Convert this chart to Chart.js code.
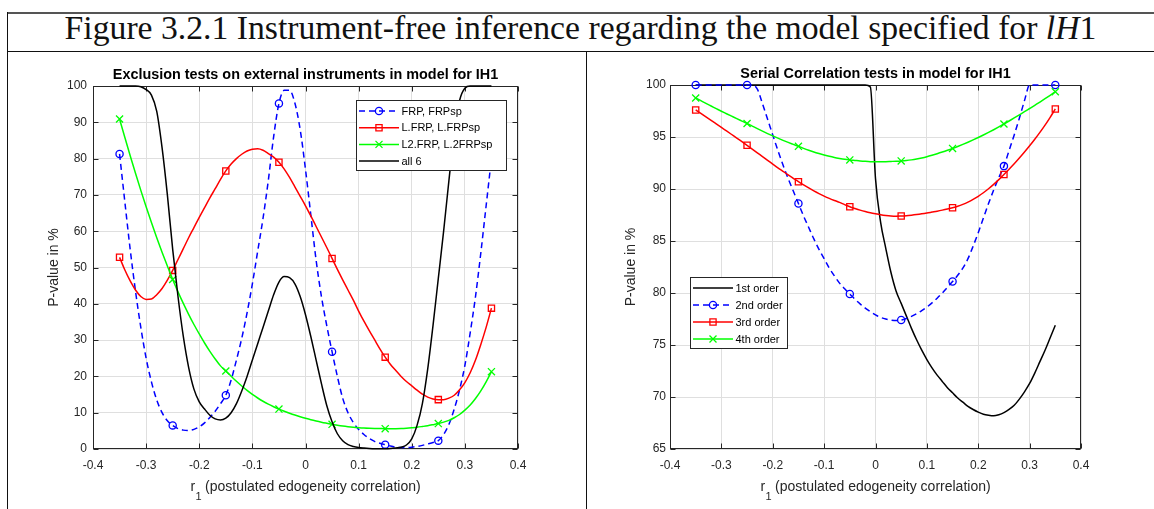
<!DOCTYPE html>
<html>
<head>
<meta charset="utf-8">
<title>Figure 3.2.1</title>
<script src="https://cdn.jsdelivr.net/npm/chart.js@4.4.1/dist/chart.umd.min.js"></script>
<style>
    html, body { margin: 0; padding: 0; background: #fff; }
    #fig { position: relative; width: 1154px; height: 509px; overflow: hidden; background: #fff; }
    .rule { position: absolute; background: #111; }
    #caption {
        position: absolute; left: 7px; top: 13px; width: 1147px; height: 38px;
        text-align: center; white-space: nowrap;
        font-family: "Liberation Serif", "DejaVu Serif", serif; font-size: 30px; line-height: 30px; color: #111;
    }
    canvas { position: absolute; }
</style>
</head>
<body>
<div id="fig">
    <div class="rule" style="left:7px;top:12px;width:1147px;height:2px;background:#555"></div>
    <div class="rule" style="left:7px;top:12px;width:1px;height:497px"></div>
    <div class="rule" style="left:7px;top:51px;width:1147px;height:1px"></div>
    <div class="rule" style="left:586px;top:51px;width:1px;height:458px"></div>
    <div id="caption"><span id="captionText">Figure 3.2.1 Instrument-free inference regarding the model specified for <i>lH</i>1</span></div>
    <canvas id="exclChart" width="577" height="457" style="left:8px;top:52px;width:577px;height:457px"></canvas>
    <canvas id="serialChart" width="567" height="457" style="left:587px;top:52px;width:567px;height:457px"></canvas>
</div>

<script>
// r1 grid the curves were read at, and the positions carrying markers
const r1Grid = [
    -0.35, -0.34, -0.33, -0.32, -0.31, -0.30, -0.29, -0.28, -0.27, -0.26,
    -0.25, -0.24, -0.23, -0.22, -0.21, -0.20, -0.19, -0.18, -0.17, -0.16,
    -0.15, -0.14, -0.13, -0.12, -0.11, -0.10, -0.09, -0.08, -0.07, -0.06,
    -0.05, -0.04, -0.03, -0.02, -0.01, 0, 0.01, 0.02, 0.03, 0.04,
    0.05, 0.06, 0.07, 0.08, 0.09, 0.10, 0.11, 0.12, 0.13, 0.14,
    0.15, 0.16, 0.17, 0.18, 0.19, 0.20, 0.21, 0.22, 0.23, 0.24,
    0.25, 0.26, 0.27, 0.28, 0.29, 0.30, 0.31, 0.32, 0.33, 0.34,
    0.35
];
const r1Markers = [-0.35, -0.25, -0.15, -0.05, 0.05, 0.15, 0.25, 0.35];

// Left panel: exclusion tests (P-value in %)
const exclFrp = [
    81.3, 68, 55, 43.5, 33.5, 25, 18.5, 13.5, 10, 7.8,
    6.5, 5.6, 5.2, 5.1, 5.4, 6.1, 7.2, 8.7, 10.4, 12.5,
    14.8, 19, 24.5, 30.5, 37.5, 45.5, 54.5, 63.5, 74, 86,
    95.2, 98.8, 98.8, 95.3, 88, 77, 64.5, 52, 42, 34,
    26.8, 20, 14, 10, 7.3, 5.4, 4.0, 2.9, 2.1, 1.6,
    1.2, 0.8, 0.5, 0.4, 0.4, 0.5, 0.7, 1.0, 1.4, 1.8,
    2.3, 4, 6.8, 11, 16.3, 23, 32, 42, 54, 67,
    80
];
const exclLFrp = [
    52.8, 49.3, 46.3, 43.8, 42.0, 41.2, 41.3, 42.5, 44.2, 46.5,
    49.2, 52.2, 55.2, 58.2, 61.0, 63.8, 66.5, 69.2, 71.7, 74.3,
    76.6, 78.5, 80.0, 81.2, 82.1, 82.6, 82.7, 82.3, 81.4, 80.4,
    79.0, 77.1, 74.8, 72.2, 69.6, 67.0, 64.2, 61.3, 58.4, 55.5,
    52.5, 49.5, 46.6, 43.8, 41.0, 38.0, 35.2, 32.6, 30.1, 27.6,
    25.3, 23.3, 21.6, 20.0, 18.6, 17.4, 16.2, 15.1, 14.3, 13.8,
    13.6, 13.6, 14.0, 14.8, 16.3, 18.3, 21.0, 24.5, 28.8, 33.5,
    38.8
];
const exclL2Frp = [
    90.9, 85.8, 80.8, 75.95, 71.25, 66.75, 62.4, 58.2, 54.2, 50.4,
    46.7, 43.3, 40.1, 37.1, 34.3, 31.7, 29.2, 26.9, 24.8, 22.9,
    21.5, 20.05, 18.65, 17.35, 16.15, 15.05, 14.05, 13.15, 12.35, 11.65,
    11.0, 10.4, 9.85, 9.35, 8.9, 8.48, 8.08, 7.72, 7.39, 7.09,
    6.8, 6.55, 6.33, 6.15, 6.0, 5.88, 5.78, 5.71, 5.66, 5.63,
    5.6, 5.58, 5.6, 5.65, 5.74, 5.86, 6.0, 6.2, 6.42, 6.7,
    7.0, 7.4, 7.9, 8.6, 9.5, 10.7, 12.1, 13.9, 16.0, 18.5,
    21.3
];
const exclAll6 = [
    100, 100, 100, 100, 99.8, 99, 97.5, 93, 83, 70,
    55, 42, 31, 22.5, 16.5, 13, 11, 9.3, 8.3, 8.0,
    8.5, 10, 12.5, 16, 20, 24.5, 29, 33.5, 38, 42.5,
    46, 47.5, 47.2, 45.5, 42, 37, 31, 24.5, 18, 12,
    7.5, 4.2, 2.3, 1.2, 0.7, 0.4, 0.25, 0.15, 0.1, 0.1,
    0.1, 0.15, 0.3, 0.5, 1.1, 2.8, 6.5, 12.5, 22, 34,
    47, 60, 74, 87, 96, 99.4, 100, 100, 100, 100,
    100
];

// Right panel: serial correlation tests (P-value in %)
const serial1st = [
    100, 100, 100, 100, 100, 100, 100, 100, 100, 100,
    100, 100, 100, 100, 100, 100, 100, 100, 100, 100,
    100, 100, 100, 100, 100, 100, 100, 100, 100, 100,
    100, 100, 100, 100, 99.8, 91, 86.8, 84.3, 82.0, 80.2,
    79.0, 77.8, 76.6, 75.5, 74.5, 73.6, 72.8, 72.1, 71.5, 70.9,
    70.4, 69.9, 69.5, 69.1, 68.8, 68.55, 68.35, 68.25, 68.2, 68.3,
    68.5, 68.8, 69.2, 69.8, 70.5, 71.3, 72.3, 73.4, 74.5, 75.7,
    76.9
];
const serial2nd = [
    100, 100, 100, 100, 100, 100, 100, 100, 100, 100,
    100, 100, 99.6, 98.2, 96.7, 95.2, 93.7, 92.3, 91.0, 89.8,
    88.6, 87.4, 86.3, 85.2, 84.2, 83.3, 82.4, 81.65, 80.95, 80.4,
    79.9, 79.4, 78.95, 78.55, 78.2, 77.9, 77.65, 77.5, 77.4, 77.35,
    77.4, 77.55, 77.75, 78.0, 78.3, 78.65, 79.05, 79.5, 80.0, 80.55,
    81.1, 81.7, 82.4, 83.3, 84.5, 85.8, 87.2, 88.6, 89.9, 91.1,
    92.2, 93.7, 95.2, 96.8, 98.5, 100, 100, 100, 100, 100,
    100
];
const serial3rd = [
    97.6, 97.27, 96.93, 96.6, 96.26, 95.92, 95.58, 95.24, 94.9, 94.55,
    94.2, 93.84, 93.48, 93.12, 92.76, 92.4, 92.04, 91.7, 91.36, 91.03,
    90.7, 90.39, 90.1, 89.82, 89.56, 89.32, 89.1, 88.9, 88.71, 88.5,
    88.3, 88.13, 87.97, 87.83, 87.71, 87.61, 87.52, 87.45, 87.4, 87.38,
    87.4, 87.43, 87.48, 87.54, 87.61, 87.69, 87.78, 87.87, 87.97, 88.08,
    88.2, 88.34, 88.52, 88.74, 89.0, 89.3, 89.64, 90.02, 90.44, 90.9,
    91.4, 91.9, 92.42, 92.97, 93.55, 94.15, 94.78, 95.44, 96.14, 96.89,
    97.7
];
const serial4th = [
    98.75, 98.49, 98.23, 97.98, 97.73, 97.48, 97.24, 97.0, 96.76, 96.53,
    96.3, 96.05, 95.8, 95.56, 95.33, 95.11, 94.89, 94.68, 94.48, 94.29,
    94.1, 93.91, 93.73, 93.56, 93.41, 93.27, 93.14, 93.03, 92.94, 92.86,
    92.8, 92.75, 92.7, 92.66, 92.63, 92.62, 92.62, 92.63, 92.65, 92.67,
    92.7, 92.74, 92.8, 92.88, 92.98, 93.1, 93.24, 93.39, 93.55, 93.72,
    93.9, 94.09, 94.29, 94.5, 94.72, 94.95, 95.19, 95.44, 95.7, 95.97,
    96.25, 96.54, 96.83, 97.13, 97.43, 97.74, 98.05, 98.36, 98.68, 99.01,
    99.35
];

// Look
const FONT = '"Liberation Sans", Arial, Helvetica, sans-serif';
const AXIS_COLOR = '#262626';
const GRID_COLOR = '#dfdfdf';
const MARKERS = {
    circle: { style: 'circle', radius: 3.6 },
    rect: { style: 'rect', radius: 4.4 },
    cross: { style: 'crossRot', radius: 5 }
};

Chart.defaults.font.family = FONT;
Chart.defaults.color = AXIS_COLOR;

const exclSeries = [
    { label: 'FRP, FRPsp', values: exclFrp, color: '#0000ff', dash: [6, 4], marker: 'circle' },
    { label: 'L.FRP, L.FRPsp', values: exclLFrp, color: '#ff0000', marker: 'rect' },
    { label: 'L2.FRP, L.2FRPsp', values: exclL2Frp, color: '#00ff00', marker: 'cross' },
    { label: 'all 6', values: exclAll6, color: '#000000', marker: null }
];
const serialSeries = [
    { label: '1st order', values: serial1st, color: '#000000', marker: null },
    { label: '2nd order', values: serial2nd, color: '#0000ff', dash: [6, 4], marker: 'circle' },
    { label: '3rd order', values: serial3rd, color: '#ff0000', marker: 'rect' },
    { label: '4th order', values: serial4th, color: '#00ff00', marker: 'cross' }
];

function isMarker(x) {
    return r1Markers.some(m => Math.abs(m - x) < 1e-9);
}

function makeDataset(s, order) {
    const mk = MARKERS[s.marker];
    return {
        label: s.label,
        data: r1Grid.map((x, i) => ({ x: x, y: s.values[i] })),
        borderColor: s.color,
        borderWidth: 1.5,
        borderDash: s.dash || [],
        cubicInterpolationMode: 'monotone',
        pointStyle: mk ? mk.style : 'circle',
        pointRadius: ctx => (mk && ctx.raw && isMarker(ctx.raw.x)) ? mk.radius : 0,
        pointHoverRadius: 0,
        pointBorderColor: s.color,
        pointBackgroundColor: 'rgba(0,0,0,0)',
        pointBorderWidth: 1.3,
        clip: 6,
        order: order
    };
}

// small marker drawer for the legend
function drawMarker(ctx, kind, x, y, color) {
    if (!kind) return;
    ctx.strokeStyle = color;
    ctx.lineWidth = 1.3;
    ctx.setLineDash([]);
    ctx.beginPath();
    if (kind === 'circle') {
        ctx.arc(x, y, 3.6, 0, Math.PI * 2);
    } else if (kind === 'rect') {
        ctx.rect(x - 3.1, y - 3.1, 6.2, 6.2);
    } else if (kind === 'cross') {
        ctx.moveTo(x - 3.5, y - 3.5); ctx.lineTo(x + 3.5, y + 3.5);
        ctx.moveTo(x + 3.5, y - 3.5); ctx.lineTo(x - 3.5, y + 3.5);
    }
    ctx.stroke();
}

// MATLAB style box, inward ticks, titles and legend
const matlabFrame = {
    id: 'matlabFrame',
    beforeDatasetsDraw(chart) {
        const { ctx, chartArea: a, scales } = chart;
        const L = Math.round(a.left) + 0.5, R = Math.round(a.right) - 0.5;
        const T = Math.round(a.top) + 0.5, B = Math.round(a.bottom) - 0.5;
        ctx.save();
        ctx.strokeStyle = AXIS_COLOR;
        ctx.lineWidth = 1;
        ctx.strokeRect(L, T, R - L, B - T);
        ctx.beginPath();
        scales.x.ticks.forEach(t => {
            const px = Math.round(scales.x.getPixelForValue(t.value)) + 0.5;
            ctx.moveTo(px, B); ctx.lineTo(px, B - 5);
            ctx.moveTo(px, T); ctx.lineTo(px, T + 5);
        });
        scales.y.ticks.forEach(t => {
            const py = Math.round(scales.y.getPixelForValue(t.value)) + 0.5;
            ctx.moveTo(L, py); ctx.lineTo(L + 5, py);
            ctx.moveTo(R, py); ctx.lineTo(R - 5, py);
        });
        ctx.stroke();
        ctx.restore();
    },
    afterDraw(chart, args, o) {
        const { ctx, chartArea: a } = chart;
        const cx = (a.left + a.right) / 2;
        ctx.save();

        // title
        ctx.fillStyle = '#000';
        ctx.font = 'bold 14.4px ' + FONT;
        ctx.textAlign = 'center';
        ctx.textBaseline = 'middle';
        ctx.fillText(o.title, cx, a.top - 11);

        // y label
        ctx.fillStyle = AXIS_COLOR;
        ctx.font = '14px ' + FONT;
        ctx.save();
        ctx.translate(a.left - 39, (a.top + a.bottom) / 2);
        ctx.rotate(-Math.PI / 2);
        ctx.fillText(o.yLabel, 0, 0);
        ctx.restore();

        // x label: r with subscript 1
        const base = a.bottom + 42;
        ctx.textAlign = 'left';
        ctx.textBaseline = 'alphabetic';
        ctx.font = '14px ' + FONT;
        const wR = ctx.measureText('r').width;
        const wRest = ctx.measureText(o.xLabelRest).width;
        ctx.font = '11px ' + FONT;
        const wSub = ctx.measureText('1').width;
        let x0 = cx - (wR + wSub + wRest) / 2;
        ctx.font = '14px ' + FONT;
        ctx.fillText('r', x0, base);
        ctx.font = '11px ' + FONT;
        ctx.fillText('1', x0 + wR + 0.5, base + 9);
        ctx.font = '14px ' + FONT;
        ctx.fillText(o.xLabelRest, x0 + wR + wSub, base);

        // legend
        const lg = o.legend;
        ctx.fillStyle = '#fff';
        ctx.fillRect(lg.x, lg.y, lg.w, lg.h);
        ctx.strokeStyle = AXIS_COLOR;
        ctx.lineWidth = 1;
        ctx.strokeRect(lg.x + 0.5, lg.y + 0.5, lg.w, lg.h);
        ctx.font = '11px ' + FONT;
        ctx.textBaseline = 'middle';
        o.series.forEach((s, i) => {
            const ry = lg.y + 11 + i * lg.gap;
            ctx.strokeStyle = s.color;
            ctx.lineWidth = 1.5;
            ctx.setLineDash(s.dash || []);
            ctx.beginPath();
            ctx.moveTo(lg.x + 3, ry);
            ctx.lineTo(lg.x + 43, ry);
            ctx.stroke();
            ctx.setLineDash([]);
            drawMarker(ctx, s.marker, lg.x + 23, ry, s.color);
            ctx.fillStyle = '#000';
            ctx.fillText(s.label, lg.x + 45.5, ry + 0.5);
        });
        ctx.restore();
    }
};

function buildPanel(canvasId, cfg) {
    const canvas = document.getElementById(canvasId);
    const W = canvas.width, H = canvas.height;
    const area = cfg.area;
    const n = cfg.series.length;
    return new Chart(canvas, {
        type: 'line',
        data: { datasets: cfg.series.map((s, i) => makeDataset(s, n - i)) },
        options: {
            responsive: false,
            animation: false,
            devicePixelRatio: 1,
            events: [],
            layout: { padding: { left: 0, top: area.top, right: W - area.right, bottom: 0 } },
            plugins: {
                legend: { display: false },
                tooltip: { enabled: false },
                matlabFrame: {
                    title: cfg.title,
                    yLabel: 'P-value in %',
                    xLabelRest: ' (postulated edogeneity correlation)',
                    legend: cfg.legend,
                    series: cfg.series
                }
            },
            scales: {
                x: {
                    type: 'linear',
                    min: -0.4,
                    max: 0.4,
                    afterFit: s => { s.height = H - area.bottom; },
                    border: { display: false },
                    grid: { color: GRID_COLOR, drawTicks: false },
                    ticks: {
                        stepSize: 0.1,
                        autoSkip: false,
                        maxRotation: 0,
                        padding: 9,
                        font: { size: 12 },
                        color: AXIS_COLOR,
                        callback: v => String(Math.round(v * 10) / 10)
                    }
                },
                y: {
                    type: 'linear',
                    min: cfg.yMin,
                    max: cfg.yMax,
                    afterFit: s => { s.width = area.left; },
                    border: { display: false },
                    grid: { color: GRID_COLOR, drawTicks: false },
                    ticks: {
                        stepSize: cfg.yStep,
                        autoSkip: false,
                        padding: cfg.yPad,
                        font: { size: 12 },
                        color: AXIS_COLOR
                    }
                }
            }
        },
        plugins: [matlabFrame]
    });
}

buildPanel('exclChart', {
    title: 'Exclusion tests on external instruments in model for IH1',
    series: exclSeries,
    yMin: 0, yMax: 100, yStep: 10, yPad: 6,
    area: { left: 85, top: 34, right: 510, bottom: 397 },
    legend: { x: 348, y: 48, w: 150, h: 70, gap: 16.7 }
});

buildPanel('serialChart', {
    title: 'Serial Correlation tests in model for IH1',
    series: serialSeries,
    yMin: 65, yMax: 100, yStep: 5, yPad: 4,
    area: { left: 83, top: 33, right: 494, bottom: 397 },
    legend: { x: 103, y: 225, w: 97, h: 71, gap: 17 }
});

// fit the serif caption to the width it has in the figure
(function fitCaption() {
    const span = document.getElementById('captionText');
    const cap = document.getElementById('caption');
    const w = span.getBoundingClientRect().width;
    if (w > 0) {
        const size = Math.max(24, Math.min(36, 30 * 1033 / w));
        cap.style.fontSize = size.toFixed(1) + 'px';
    }
})();
</script>
</body>
</html>
